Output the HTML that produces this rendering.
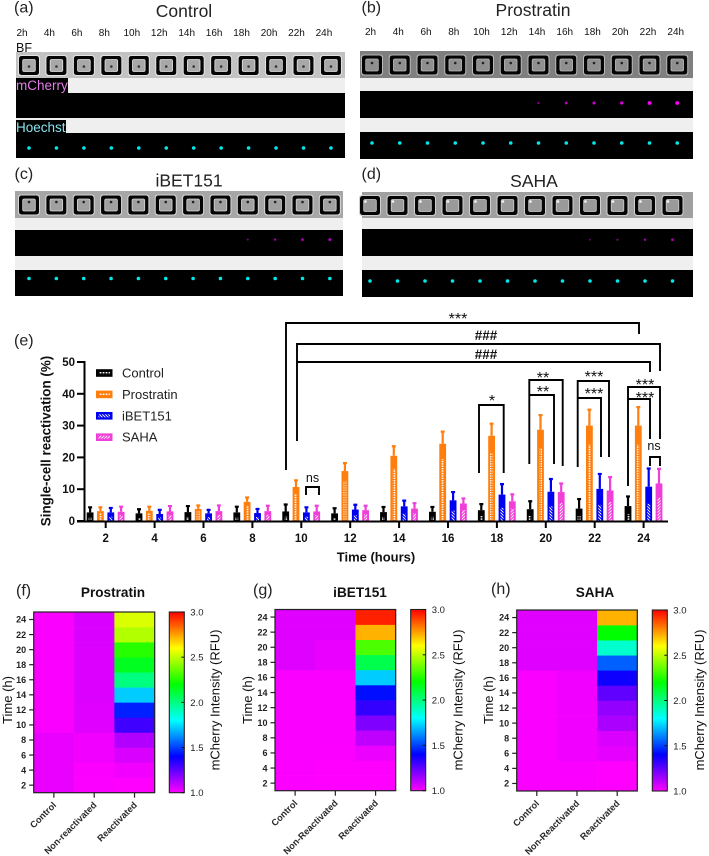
<!DOCTYPE html>
<html lang="en">
<head>
<meta charset="utf-8">
<title>Single-cell reactivation figure</title>
<style>
  html, body { margin: 0; padding: 0; background: #fff; }
  svg { display: block; font-family: "Liberation Sans", sans-serif; }
</style>
</head>
<body>
<svg id="figure" xmlns="http://www.w3.org/2000/svg" width="709" height="856" viewBox="0 0 709 856">
  <defs>
    <pattern id="hatch-dots" width="3" height="2.4" patternUnits="userSpaceOnUse"><rect x="0.6" y="0" width="1.8" height="1.4" fill="#fff"/></pattern>
    <pattern id="hatch-back" width="3" height="3" patternUnits="userSpaceOnUse"><path d="M-1 -1L4 4M-1 2L1 4M2 -1L4 1" stroke="#fff" stroke-width="0.95"/></pattern>
    <pattern id="hatch-forward" width="3" height="3" patternUnits="userSpaceOnUse"><path d="M-1 4L4 -1M-1 1L1 -1M2 4L4 2" stroke="#fff" stroke-width="0.95"/></pattern>
    <linearGradient id="rainbow" x1="0" y1="1" x2="0" y2="0">
      <stop offset="0" stop-color="#ff00ff"/>
      <stop offset="0.2" stop-color="#0000ff"/>
      <stop offset="0.4" stop-color="#00ffff"/>
      <stop offset="0.6" stop-color="#00ff00"/>
      <stop offset="0.8" stop-color="#ffff00"/>
      <stop offset="1" stop-color="#ff0000"/>
    </linearGradient>
  </defs>

  <g font-size="16" fill="#222">
    <text x="14" y="12.5">(a)</text>
    <text x="361.5" y="12.5">(b)</text>
    <text x="14.5" y="179">(c)</text>
    <text x="361.5" y="179">(d)</text>
    <text x="14" y="345.5">(e)</text>
    <text x="16" y="595.5">(f)</text>
    <text x="253" y="595">(g)</text>
    <text x="491" y="594">(h)</text>
  </g>

  <g font-size="17.5" fill="#222" text-anchor="middle">
    <text x="184" y="17">Control</text>
    <text x="533" y="16">Prostratin</text>
    <text x="189" y="186.5">iBET151</text>
    <text x="534" y="187">SAHA</text>
  </g>

  <g id="microscopy"></g>

  <g>
    <text x="16" y="52" font-size="12.5" fill="#111">BF</text>
    <rect x="16" y="78" width="52" height="15" fill="#000"/>
    <text x="16" y="90" font-size="13.5" fill="#e27be6">mCherry</text>
    <rect x="16" y="120" width="50" height="13" fill="#000"/>
    <text x="16" y="132" font-size="13.5" fill="#86e3ec">Hoechst</text>
  </g>

  <g id="bar-chart"></g>

  <g id="heatmaps"></g>
</svg>

<script>
// ---- Microscopy timeline ----
const timeLabels = ['2h','4h','6h','8h','10h','12h','14h','16h','18h','20h','22h','24h'];
const controlMcherry = [0,0,0,0,0,0,0,0,0,0,0,0];
const prostratinMcherry = [0,0,0,0,0,0,0.35,0.6,0.7,0.8,1,1];
const ibetMcherry = [0,0,0,0,0,0,0,0,0.25,0.45,0.55,0.6];
const sahaMcherry = [0,0,0,0,0,0,0,0,0.2,0.3,0.45,0.55];

// ---- Bar chart values (percent) ----
const barHours = [2,4,6,8,10,12,14,16,18,20,22,24];
const yTickValues = [0,10,20,30,40,50];
const controlMeans = [2.7,2.4,2.8,2.7,3.0,2.4,2.8,2.9,3.4,3.7,3.9,4.7];
const controlUppers = [4.3,3.7,4.7,4.5,5.2,4.0,4.4,4.4,5.3,6.2,6.9,7.7];
const prostratinMeans = [3.1,3.2,3.8,6.0,10.7,15.7,20.5,24.3,26.8,28.7,30.0,30.0];
const prostratinUppers = [4.3,4.5,4.9,7.4,12.8,18.2,23.5,28.1,30.6,33.3,35.0,35.8];
const ibetMeans = [2.7,2.2,2.4,2.5,2.7,3.6,4.6,6.5,8.3,9.2,10.1,10.8];
const ibetUppers = [4.1,3.5,3.5,3.8,4.3,5.1,6.4,9.1,11.6,13.2,14.8,16.5];
const sahaMeans = [2.9,3.0,3.1,3.1,3.0,3.4,3.9,5.5,6.2,9.1,9.6,11.8];
const sahaUppers = [4.5,4.7,4.9,4.8,4.8,4.8,5.6,7.1,8.4,11.8,13.8,16.4];

// ---- Heatmap values (RFU), rows from 2 h to 24 h ----
const heatTimes = [2,4,6,8,10,12,14,16,18,20,22,24];
const heatTickLabels = [2,4,6,8,10,12,14,16,18,20,22,24];
const colorbarTicks = [1.0,1.5,2.0,2.5,3.0];
const prostratinControl = [1.035,1.035,1.035,1.035,1.01,1.01,1.01,1.01,1.01,1.01,1.01,1.01];
const prostratinNonReactivated = [1.005,1.005,1.02,1.02,1.05,1.05,1.055,1.055,1.055,1.055,1.06,1.06];
const prostratinReactivated = [1.0,1.02,1.06,1.12,1.3,1.45,1.72,2.0,2.15,2.26,2.48,2.54];
const ibetControl = [1.005,1.005,1.01,1.01,1.01,1.01,1.01,1.01,1.05,1.05,1.05,1.05];
const ibetNonReactivated = [1.0,1.0,1.005,1.01,1.01,1.01,1.01,1.01,1.035,1.035,1.05,1.05];
const ibetReactivated = [1.0,1.0,1.03,1.1,1.2,1.32,1.42,1.72,2.08,2.32,2.72,2.95];
const sahaControl = [1.01,1.01,1.01,1.01,1.01,1.01,1.01,1.01,1.05,1.05,1.05,1.05];
const sahaNonReactivated = [1.005,1.01,1.02,1.02,1.02,1.02,1.02,1.02,1.05,1.05,1.05,1.05];
const sahaReactivated = [1.0,1.0,1.04,1.06,1.13,1.17,1.25,1.38,1.55,1.88,2.2,2.72];
const colormapValues = [1.0,1.4,1.8,2.2,2.6,3.0];
const colormapColors = [[255,0,255],[0,0,255],[0,255,255],[0,255,0],[255,255,0],[255,0,0]];

const SVG_NS = 'http://www.w3.org/2000/svg';
function make(tag, attrs, parent, text) {
  const node = document.createElementNS(SVG_NS, tag);
  for (const key in attrs) node.setAttribute(key, attrs[key]);
  if (text !== undefined) node.textContent = text;
  parent.appendChild(node);
  return node;
}

// ---------- Microscopy panels ----------
function drawPanel(root, slug, cfg, signal) {
  const panel = make('g', {}, root);
  
  
  const width = cfg.right - cfg.left;

  if (cfg.labelY) {
    timeLabels.forEach(function (label, i) {
      const t = make('text', {x: cfg.well + cfg.step * i + cfg.labelShift, y: cfg.labelY, 'font-size': 10, 'text-anchor': 'middle', fill: '#111'}, panel, label);
      
      
    });
  }

  const band = make('rect', {x: cfg.left, y: cfg.bf[1], width: width, height: cfg.h[0] - cfg.bf[1], fill: '#efefef'}, panel);
  
  

  const strip = make('rect', {x: cfg.left, y: cfg.bf[0], width: width, height: cfg.bf[1] - cfg.bf[0], fill: cfg.stripFill}, panel);
  
  

  const mch = make('rect', {x: cfg.left, y: cfg.m[0], width: width, height: cfg.m[1] - cfg.m[0], fill: '#000'}, panel);
  
  

  const hoe = make('rect', {x: cfg.left, y: cfg.h[0], width: width, height: cfg.h[1] - cfg.h[0], fill: '#000'}, panel);
  
  

  timeLabels.forEach(function (label, i) {
    const cx = cfg.well + cfg.step * i;
    const cy = (cfg.bf[0] + cfg.bf[1]) / 2 + 0.5;
    const well = make('g', {}, panel);
    
    
    make('rect', {x: cx - 11, y: cy - 10.5, width: 22, height: 21, rx: 3, fill: cfg.rimFill}, well);
    make('rect', {x: cx - 10, y: cy - 9.5, width: 20, height: 19, rx: 2.5, fill: '#050505'}, well);
    make('rect', {x: cx - 6.3, y: cy - 6, width: 12.6, height: 12, rx: 1.5, fill: cfg.innerFill, stroke: cfg.rimFill, 'stroke-width': 0.8}, well);
    make('circle', {cx: cx + cfg.cellDx, cy: cy + cfg.cellDy, r: 1.3, fill: cfg.cellFill}, well);

    const hDot = make('circle', {cx: cx, cy: cfg.hDot, r: 1.8, fill: '#00eaea'}, panel);
    
    

    if (signal[i] > 0) {
      const mDot = make('circle', {cx: cx, cy: cfg.mDot, r: 0.7 + 1.2 * signal[i], fill: '#ff00ff', opacity: 0.35 + 0.65 * signal[i]}, panel);
      
      
    }
  });
}

const microscopyRoot = document.getElementById('microscopy');
drawPanel(microscopyRoot, 'control', {left: 16, right: 345, bf: [52, 78], m: [93, 118], h: [133, 158], well: 29, step: 27.45, labelShift: -7, labelY: 36, mDot: 105, hDot: 148, stripFill: '#c2c2c2', rimFill: '#e4e4e4', innerFill: '#a8a8a8', cellFill: '#333', cellDx: 0, cellDy: 1}, controlMcherry);
drawPanel(microscopyRoot, 'prostratin', {left: 360, right: 693, bf: [51, 78], m: [91, 118], h: [132, 159], well: 372, step: 27.75, labelShift: -1.5, labelY: 35, mDot: 103, hDot: 143, stripFill: '#7f7f7f', rimFill: '#b8b8b8', innerFill: '#8f8f8f', cellFill: '#222', cellDx: 0, cellDy: -2}, prostratinMcherry);
drawPanel(microscopyRoot, 'ibet151', {left: 15, right: 343, bf: [191, 218], m: [230, 256], h: [270, 296], well: 29, step: 27.35, labelY: 0, mDot: 239.6, hDot: 278.5, stripFill: '#a6a6a6', rimFill: '#d6d6d6', innerFill: '#a0a0a0', cellFill: '#222', cellDx: 0, cellDy: -3}, ibetMcherry);
drawPanel(microscopyRoot, 'saha', {left: 362, right: 693, bf: [192, 218], m: [229, 256], h: [270, 297], well: 370, step: 27.5, labelY: 0, mDot: 239.7, hDot: 281, stripFill: '#a0a0a0', rimFill: '#d0d0d0', innerFill: '#9a9a9a', cellFill: '#f4f4f4', cellDx: -4.5, cellDy: -4}, sahaMcherry);

// ---------- Bar chart ----------
const barRoot = document.getElementById('bar-chart');
function xScale(hour) { return 105.7 + (hour - 2) * 24.45; }
function yScale(value) { return 521 - value * 3.18; }

const seriesList = [
  {slug: 'control', label: 'Control', color: '#000000', means: controlMeans, uppers: controlUppers, hatch: 'hatch-dots', fraction: 0.45, shift: -15.6},
  {slug: 'prostratin', label: 'Prostratin', color: '#ff7f0e', means: prostratinMeans, uppers: prostratinUppers, hatch: 'hatch-dots', fraction: 0.8, shift: -5.3},
  {slug: 'ibet151', label: 'iBET151', color: '#0000f0', means: ibetMeans, uppers: ibetUppers, hatch: 'hatch-back', fraction: 0.5, shift: 5.1},
  {slug: 'saha', label: 'SAHA', color: '#f03fd8', means: sahaMeans, uppers: sahaUppers, hatch: 'hatch-forward', fraction: 0.62, shift: 15.4}
];

seriesList.forEach(function (series) {
  const group = make('g', {}, barRoot);
  
  
  barHours.forEach(function (hour, i) {
    const cx = xScale(hour) + series.shift;
    const top = yScale(series.means[i]);
    const base = yScale(0);
    const upper = yScale(series.uppers[i]);
    const err = make('path', {d: 'M' + cx + ' ' + top + 'V' + upper + 'M' + (cx - 2) + ' ' + upper + 'H' + (cx + 2), stroke: series.color, 'stroke-width': 2.2, fill: 'none'}, group);
    
    
    const bar = make('rect', {x: cx - 3.4, y: top, width: 6.8, height: base - top, fill: series.color}, group);
    
    
    const innerHeight = (base - top) * series.fraction;
    const hatch = make('rect', {x: cx - 1.5, y: base - innerHeight, width: 3, height: innerHeight, fill: 'url(#' + series.hatch + ')'}, group);
    
    
  });
});

const yAxis = make('g', {}, barRoot);


make('line', {x1: 84.5, x2: 84.5, y1: yScale(50) - 1, y2: yScale(0) + 1, stroke: '#000', 'stroke-width': 2}, yAxis);
yTickValues.forEach(function (value) {
  const tick = make('line', {x1: 77, x2: 84, y1: yScale(value), y2: yScale(value), stroke: '#000', 'stroke-width': 2}, yAxis);
  
  
  const label = make('text', {x: 75, y: yScale(value) + 4, 'font-size': 11.5, 'font-weight': 'bold', 'text-anchor': 'end', fill: '#111'}, yAxis, value);
  
  
});

const xAxis = make('g', {}, barRoot);


make('line', {x1: 77, x2: 668, y1: yScale(0) + 0.5, y2: yScale(0) + 0.5, stroke: '#000', 'stroke-width': 2}, xAxis);
barHours.forEach(function (hour) {
  const tick = make('line', {x1: xScale(hour), x2: xScale(hour), y1: yScale(0), y2: yScale(0) + 7, stroke: '#000', 'stroke-width': 2}, xAxis);
  
  
  const label = make('text', {x: xScale(hour), y: 542, 'font-size': 11.5, 'font-weight': 'bold', 'text-anchor': 'middle', fill: '#111'}, xAxis, hour);
  
  
});

const xTitle = make('text', {x: 376, y: 561.5, 'font-size': 13, 'font-weight': 'bold', 'text-anchor': 'middle', fill: '#111'}, barRoot, 'Time (hours)');


const yTitle = make('text', {transform: 'translate(50.5,441) rotate(-90)', 'font-size': 13.4, 'font-weight': 'bold', 'text-anchor': 'middle', fill: '#111'}, barRoot, 'Single-cell reactivation  (%)');



const legend = make('g', {}, barRoot);


seriesList.forEach(function (series, i) {
  const cy = 373 + i * 21.4;
  const entry = make('g', {}, legend);
  
  
  make('rect', {x: 96, y: cy - 3.8, width: 16.5, height: 7.6, fill: series.color}, entry);
  make('rect', {x: 98.5, y: cy - 1.5, width: 11.5, height: 3, fill: 'url(#' + series.hatch + ')'}, entry);
  make('text', {x: 122, y: cy + 4.5, 'font-size': 13, fill: '#222'}, entry, series.label);
});

const brackets = make('g', {}, barRoot);


function bracket(name, d) {
  const p = make('path', {d: d, fill: 'none', stroke: '#000', 'stroke-width': 1.9}, brackets);
  
  
}
function stars(name, text, x, cy) {
  const t = make('text', {x: x, y: cy + 9, 'font-size': 16, 'text-anchor': 'middle', fill: '#111'}, brackets, text);
  
  
}
function hashes(name, x, cy) {
  const t = make('text', {x: x, y: cy + 5, 'font-size': 13.5, 'font-weight': 'bold', 'text-anchor': 'middle', fill: '#111'}, brackets, '###');
  
  
}
function ns(name, x, cy) {
  const t = make('text', {x: x, y: cy + 3, 'font-size': 12.5, 'text-anchor': 'middle', fill: '#111'}, brackets, 'ns');
  
  
}
bracket('bracket-control-10h-24h', 'M286 470V323H639V334');
bracket('bracket-outer-hash', 'M297 441V344H660V371');
bracket('bracket-inner-hash', 'M297 362H650V372');
bracket('bracket-ns-10h', 'M306 495V487H319V495');
bracket('bracket-18h', 'M479 473V405H503.7V473');
bracket('bracket-20h-outer', 'M529.3 464V380H562.7V466');
bracket('bracket-20h-inner', 'M529.3 395H554V464');
bracket('bracket-22h-outer', 'M577.7 467V381H609V457');
bracket('bracket-22h-inner', 'M577.7 398H601V457');
bracket('bracket-24h-outer', 'M628 486V387H660V439');
bracket('bracket-24h-inner', 'M628 399H650V439');
bracket('bracket-ns-24h', 'M650 466V457H660V466');
stars('stars-control-10h-24h', '***', 458, 315);
hashes('hash-outer', 486, 335);
hashes('hash-inner', 486, 354);
ns('ns-10h', 312.5, 479);
stars('star-18h', '*', 492, 397);
stars('stars-20h-outer', '**', 543, 374);
stars('stars-20h-inner', '**', 543, 388);
stars('stars-22h-outer', '***', 594, 373);
stars('stars-22h-inner', '***', 594, 390);
stars('stars-24h-outer', '***', 645, 381);
stars('stars-24h-inner', '***', 645, 394);
ns('ns-24h', 654, 447);

// ---------- Heatmaps ----------
function colorFor(value) {
  const v = Math.max(colormapValues[0], Math.min(colormapValues[colormapValues.length - 1], value));
  for (let i = 1; i < colormapValues.length; i++) {
    if (v <= colormapValues[i]) {
      const f = (v - colormapValues[i - 1]) / (colormapValues[i] - colormapValues[i - 1]);
      const a = colormapColors[i - 1], b = colormapColors[i];
      return 'rgb(' + Math.round(a[0] + (b[0] - a[0]) * f) + ',' + Math.round(a[1] + (b[1] - a[1]) * f) + ',' + Math.round(a[2] + (b[2] - a[2]) * f) + ')';
    }
  }
  return 'rgb(255,0,0)';
}

function drawHeatmap(root, slug, cfg, columns) {
  const panel = make('g', {}, root);
  
  
  const width = cfg.right - cfg.left;
  const colWidth = width / columns.length;
  const timeY = function (t) { return cfg.top + (25 - t) * (cfg.bottom - cfg.top) / 24; };
  const valueY = function (v) { return cfg.bottom - (v - 1) * (cfg.bottom - cfg.top) / 2; };

  const title = make('text', {x: cfg.titleX, y: 597, 'font-size': 13.6, 'font-weight': 'bold', 'text-anchor': 'middle', fill: '#111'}, panel, cfg.title);
  
  

  columns.forEach(function (col, c) {
    heatTimes.forEach(function (t, r) {
      const y = timeY(t + 1);
      const cell = make('rect', {x: cfg.left + c * colWidth, y: y, width: colWidth + 0.3, height: timeY(t - 1) - y + 0.3, fill: colorFor(col.values[r])}, panel);
      
      
    });
    const tx = cfg.left + (c + 0.5) * colWidth;
    const tick = make('line', {x1: tx, x2: tx, y1: cfg.bottom, y2: cfg.bottom + 5, stroke: '#222', 'stroke-width': 1.2}, panel);
    
    
    const lx = tx + 3, ly = cfg.bottom + 13;
    const label = make('text', {transform: 'translate(' + lx + ',' + ly + ') rotate(-45)', 'font-size': 9.2, 'font-weight': 'bold', 'text-anchor': 'end', fill: '#2a2a2a'}, panel, col.label);
    
    
  });

  const frame = make('rect', {x: cfg.left, y: cfg.top, width: width, height: cfg.bottom - cfg.top, fill: 'none', stroke: '#222', 'stroke-width': 1.2}, panel);
  
  

  heatTickLabels.forEach(function (t) {
    const tick = make('line', {x1: cfg.left - 4.5, x2: cfg.left, y1: timeY(t), y2: timeY(t), stroke: '#222', 'stroke-width': 1.2}, panel);
    
    
    const label = make('text', {x: cfg.left - 7.5, y: timeY(t) + 3.2, 'font-size': 9, 'font-weight': 'bold', 'text-anchor': 'end', fill: '#222'}, panel, t);
    
    
  });

  const yTitleText = make('text', {transform: 'translate(' + cfg.timeTitleX + ',700) rotate(-90)', 'font-size': 13, 'text-anchor': 'middle', fill: '#111'}, panel, 'Time (h)');
  
  

  const bar = make('rect', {x: cfg.barLeft, y: cfg.top, width: 15, height: cfg.bottom - cfg.top, fill: 'url(#rainbow)', stroke: '#222', 'stroke-width': 1.1}, panel);
  
  
  colorbarTicks.forEach(function (v) {
    const tick = make('line', {x1: cfg.barLeft + 12, x2: cfg.barLeft + 15, y1: valueY(v), y2: valueY(v), stroke: '#111', 'stroke-width': 1}, panel);
    
    
    const label = make('text', {x: cfg.barLeft + 21, y: valueY(v) + 3.5, 'font-size': 9.5, fill: '#222'}, panel, v.toFixed(1));
    
    
  });
  const barTitle = make('text', {transform: 'translate(' + cfg.barTitleX + ',700) rotate(-90)', 'font-size': 13, 'text-anchor': 'middle', fill: '#111'}, panel, 'mCherry Intensity (RFU)');
  
  
}

const heatRoot = document.getElementById('heatmaps');
drawHeatmap(heatRoot, 'prostratin', {title: 'Prostratin', titleX: 113, left: 33.7, right: 154.7, top: 612, bottom: 792.7, barLeft: 169.3, timeTitleX: 12, barTitleX: 219.5}, [
  {slug: 'control', label: 'Control', values: prostratinControl},
  {slug: 'non-reactivated', label: 'Non-reactivated', values: prostratinNonReactivated},
  {slug: 'reactivated', label: 'Reactivated', values: prostratinReactivated}
]);
drawHeatmap(heatRoot, 'ibet151', {title: 'iBET151', titleX: 360, left: 275, right: 395.7, top: 609.5, bottom: 790.7, barLeft: 410.7, timeTitleX: 252, barTitleX: 462.5}, [
  {slug: 'control', label: 'Control', values: ibetControl},
  {slug: 'non-reactivated', label: 'Non-Reactivated', values: ibetNonReactivated},
  {slug: 'reactivated', label: 'Reactivated', values: ibetReactivated}
]);
drawHeatmap(heatRoot, 'saha', {title: 'SAHA', titleX: 595, left: 516.7, right: 637.3, top: 610, bottom: 791, barLeft: 652.3, timeTitleX: 493, barTitleX: 704}, [
  {slug: 'control', label: 'Control', values: sahaControl},
  {slug: 'non-reactivated', label: 'Non-Reactivated', values: sahaNonReactivated},
  {slug: 'reactivated', label: 'Reactivated', values: sahaReactivated}
]);
</script>
</body>
</html>
